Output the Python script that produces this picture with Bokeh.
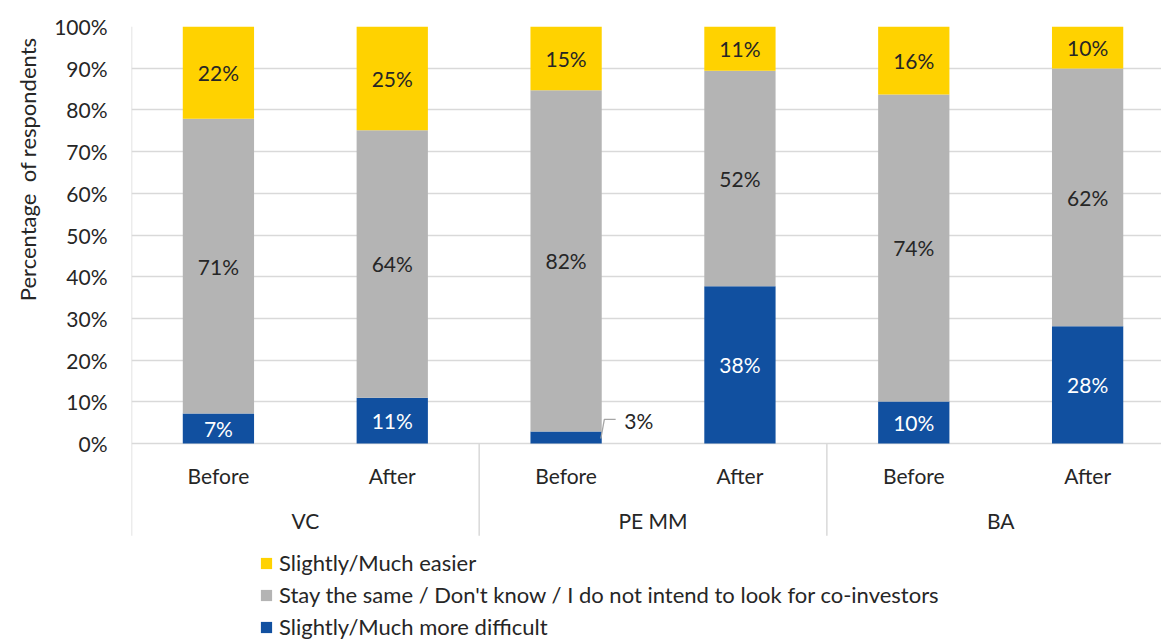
from bokeh.plotting import figure
from bokeh.models import (ColumnDataSource, FixedTicker, Legend, LegendItem, Title,
                          Range1d, PrintfTickFormatter)
from bokeh.core.properties import value
from bokeh.embed import file_html
from bokeh.resources import INLINE

# ---------------- data ----------------
groups = ["VC", "PE MM", "BA"]
periods = ["Before", "After"]
difficult = [7.2, 11.0, 2.9, 37.7, 10.1, 28.1]
same = [70.7, 64.1, 81.8, 51.7, 73.6, 61.8]
easier = [22.1, 24.9, 15.3, 10.6, 16.3, 10.1]
series_names = ["Slightly/Much easier",
                "Stay the same / Don't know / I do not intend to look for co-investors",
                "Slightly/Much more difficult"]
y_ticks = [0, 10, 20, 30, 40, 50, 60, 70, 80, 90, 100]
y_title = "Percentage\u00a0\u00a0of respondents"

# ---------------- style ----------------
FONT = "Lato"
TXT = "#262626"
YELLOW = "#FFD200"
GRAY = "#B4B4B4"
BLUE = "#1150A0"
LINE = "#D9D9D9"
FS = "21px"
BAR_W = 0.41
AXIS_BOTTOM = -22.1
SUB_Y = -7.7
GROUP_Y = -18.5

n = len(groups) * len(periods)
xs = [i + 0.5 for i in range(n)]
t0 = difficult
t1 = [d + s for d, s in zip(difficult, same)]
t2 = [a + e for a, e in zip(t1, easier)]

src = ColumnDataSource(dict(x=xs, b0=[0] * n, t0=t0, b1=t0, t1=t1, b2=t1, t2=t2))

p = figure(width=1161, height=642, x_range=Range1d(0, 5.925), y_range=Range1d(-47.72, 100),
           output_backend="svg", toolbar_location=None, title=None,
           x_axis_location=None, min_border_left=130, min_border_right=0,
           min_border_top=26, min_border_bottom=0)
p.outline_line_color = None
p.background_fill_color = "white"
p.xgrid.visible = False
p.ygrid.ticker = FixedTicker(ticks=y_ticks)
p.ygrid.grid_line_color = LINE
p.ygrid.grid_line_width = 1.5

ax = p.yaxis[0]
ax.ticker = FixedTicker(ticks=y_ticks)
ax.formatter = PrintfTickFormatter(format="%d%%")
ax.axis_line_color = None
ax.major_tick_line_color = None
ax.minor_tick_line_color = None
ax.major_tick_out = 0
ax.major_label_standoff = 24
ax.major_label_text_font = FONT
ax.major_label_text_font_size = FS
ax.major_label_text_color = TXT

# y title as a side title, aligned towards the top of the frame
p.add_layout(Title(text=y_title, align="right", offset=11, standoff=22,
                   text_font=FONT, text_font_size="22px", text_font_style="normal",
                   text_color=TXT), "left")

# structural lines: left axis line and group separators
p.segment(x0=[0], y0=[100], x1=[0], y1=[AXIS_BOTTOM], line_color=LINE, line_width=1.5)
sep_x = [len(periods) * g for g in range(1, len(groups))]
p.segment(x0=sep_x, y0=[0] * len(sep_x), x1=sep_x, y1=[AXIS_BOTTOM] * len(sep_x),
          line_color=LINE, line_width=1.5)

r_blue = p.vbar(x="x", bottom="b0", top="t0", width=BAR_W, source=src, fill_color=BLUE, line_color=None)
r_gray = p.vbar(x="x", bottom="b1", top="t1", width=BAR_W, source=src, fill_color=GRAY, line_color=None)
r_yel = p.vbar(x="x", bottom="b2", top="t2", width=BAR_W, source=src, fill_color=YELLOW, line_color=None)

# data labels
lx, ly, lt, lc = [], [], [], []
ox, oy, ot = [], [], []
for i in range(n):
    segs = [(0, t0[i], difficult[i], "white"), (t0[i], t1[i], same[i], TXT), (t1[i], t2[i], easier[i], TXT)]
    for b, t, v, c in segs:
        if v >= 5:
            lx.append(xs[i]); ly.append((b + t) / 2); lt.append(f"{round(v)}%"); lc.append(c)
        else:
            xr = xs[i] + BAR_W / 2
            p.line(x=[xr - 0.005, xr + 0.015, xr + 0.08], y=[t - 1.7, 5.8, 5.8], line_color="#A6A6A6", line_width=1.3)
            ox.append(xr + 0.13); oy.append(5.4); ot.append(f"{round(v)}%")
p.text(x=lx, y=ly, text=lt, text_color=lc, text_align="center", text_baseline="middle",
       text_font=value(FONT), text_font_size=FS)
p.text(x=ox, y=oy, text=ot, text_color=TXT, text_align="left", text_baseline="middle",
       text_font=value(FONT), text_font_size=FS)

# category labels
sub = [periods[i % len(periods)] for i in range(n)]
p.text(x=xs, y=[SUB_Y] * n, text=sub, text_color=TXT, text_align="center", text_baseline="middle",
       text_font=value(FONT), text_font_size=FS)
gx = [len(periods) * g + len(periods) / 2 for g in range(len(groups))]
p.text(x=gx, y=[GROUP_Y] * len(groups), text=groups, text_color=TXT, text_align="center",
       text_baseline="middle", text_font=value(FONT), text_font_size=FS)

legend = Legend(items=[LegendItem(label=series_names[0], renderers=[r_yel]),
                       LegendItem(label=series_names[1], renderers=[r_gray]),
                       LegendItem(label=series_names[2], renderers=[r_blue])],
                location=(128, 2), orientation="vertical", padding=0, margin=0, spacing=5,
                glyph_width=14, glyph_height=14, label_standoff=6, label_height=20,
                label_text_font=FONT, label_text_font_size="22px", label_text_color=TXT,
                background_fill_alpha=0, border_line_color=None)
p.add_layout(legend)

open("out.html", "w").write(file_html(p, INLINE))
